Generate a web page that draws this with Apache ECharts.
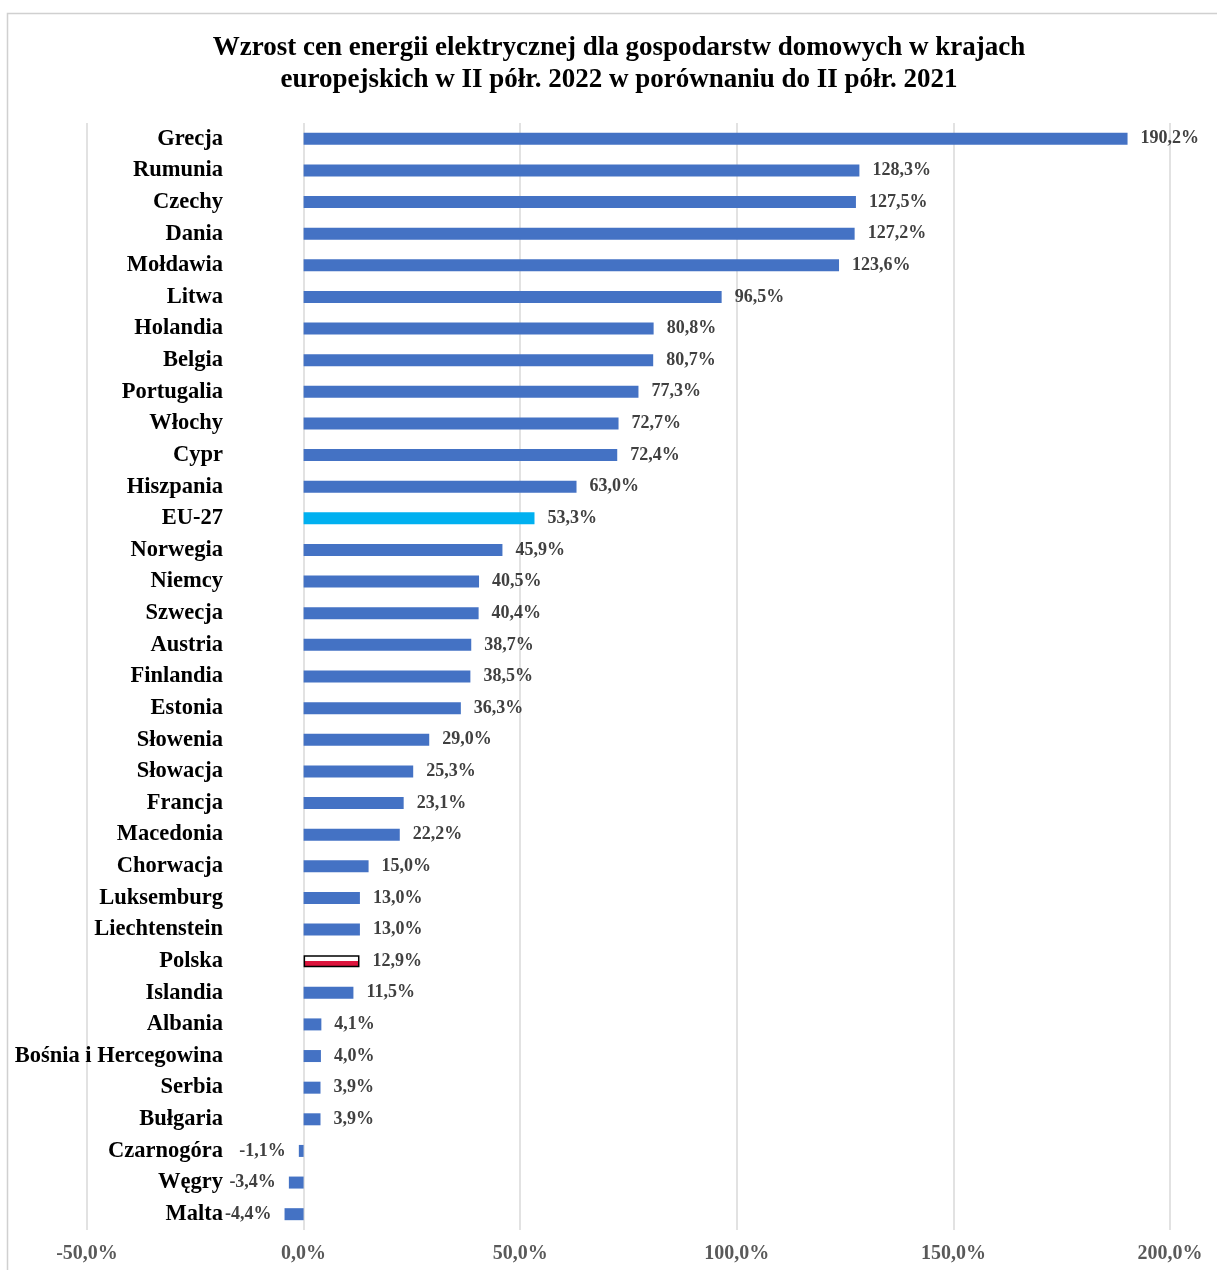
<!DOCTYPE html>
<html><head><meta charset="utf-8">
<script src="https://cdn.jsdelivr.net/npm/echarts@6/dist/echarts.min.js"></script>
<style>html,body{margin:0;padding:0;background:#fff}#c{width:1217px;height:1270px}</style>
</head><body><div id="c"></div>
<script>
const titleText = 'Wzrost cen energii elektrycznej dla gospodarstw domowych w krajach\neuropejskich w II półr. 2022 w porównaniu do II półr. 2021';
const categories = ['Grecja','Rumunia','Czechy','Dania','Mołdawia','Litwa','Holandia','Belgia','Portugalia','Włochy','Cypr','Hiszpania','EU-27','Norwegia','Niemcy','Szwecja','Austria','Finlandia','Estonia','Słowenia','Słowacja','Francja','Macedonia','Chorwacja','Luksemburg','Liechtenstein','Polska','Islandia','Albania','Bośnia i Hercegowina','Serbia','Bułgaria','Czarnogóra','Węgry','Malta'];
const values = [190.2,128.3,127.5,127.2,123.6,96.5,80.8,80.7,77.3,72.7,72.4,63.0,53.3,45.9,40.5,40.4,38.7,38.5,36.3,29.0,25.3,23.1,22.2,15.0,13.0,13.0,12.9,11.5,4.1,4.0,3.9,3.9,-1.1,-3.4,-4.4];
const axisMin = -50, axisMax = 200, axisStep = 50;

const FONT = '"Liberation Serif", "Times New Roman", serif';
const fmt = v => v.toFixed(1).replace('.', ',') + '%';

const data = values.map((v, i) => {
  const item = { value: v };
  if (categories[i] === 'EU-27') item.itemStyle = { color: '#00B0F0' };
  if (categories[i] === 'Polska') item.itemStyle = {
    color: new echarts.graphic.LinearGradient(0, 0, 0, 1, [
      { offset: 0, color: '#ffffff' }, { offset: 0.5, color: '#ffffff' },
      { offset: 0.5, color: '#DC143C' }, { offset: 1, color: '#DC143C' }
    ]),
    borderColor: '#000', borderWidth: 1.5
  };
  if (v < 0) item.label = { position: 'left' };
  return item;
});

const chart = echarts.init(document.getElementById('c'), null, { renderer: 'canvas' });
chart.setOption({
  animation: false,
  backgroundColor: '#fff',
  graphic: [
    { type: 'rect', shape: { x: 7.5, y: 13.5, width: 1230, height: 1300 }, style: { fill: 'none', stroke: '#d0d0d0', lineWidth: 1.5 }, silent: true, z: -1 },
    { type: 'text', x: 619, y: 32, silent: true,
      style: { text: titleText, align: 'center', verticalAlign: 'top', fontFamily: FONT, fontWeight: 'bold', fontSize: 27, lineHeight: 32, fill: '#000' } }
  ],
  grid: { left: 87, right: 47, top: 123, bottom: 40, containLabel: false, outerBoundsMode: 'none' },
  xAxis: {
    type: 'value', min: axisMin, max: axisMax, interval: axisStep,
    axisLine: { show: false }, axisTick: { show: false },
    splitLine: { show: true, lineStyle: { color: '#d9d9d9', width: 1.5 } },
    axisLabel: { formatter: v => fmt(v), fontFamily: FONT, fontWeight: 'bold', fontSize: 20, color: '#595959', margin: 14 }
  },
  yAxis: {
    type: 'category', data: categories, inverse: true,
    axisLine: { show: false, onZero: false },
    axisTick: { show: false },
    axisLabel: { fontFamily: FONT, fontWeight: 'bold', fontSize: 22.5, color: '#000', margin: -136 }
  },
  series: [{
    type: 'bar', data: data, barWidth: 12,
    itemStyle: { color: '#4472C4' },
    label: { show: true, position: 'right', distance: 13, formatter: p => fmt(p.value), fontFamily: FONT, fontWeight: 'bold', fontSize: 18, color: '#404040' }
  }]
});
</script></body></html>
